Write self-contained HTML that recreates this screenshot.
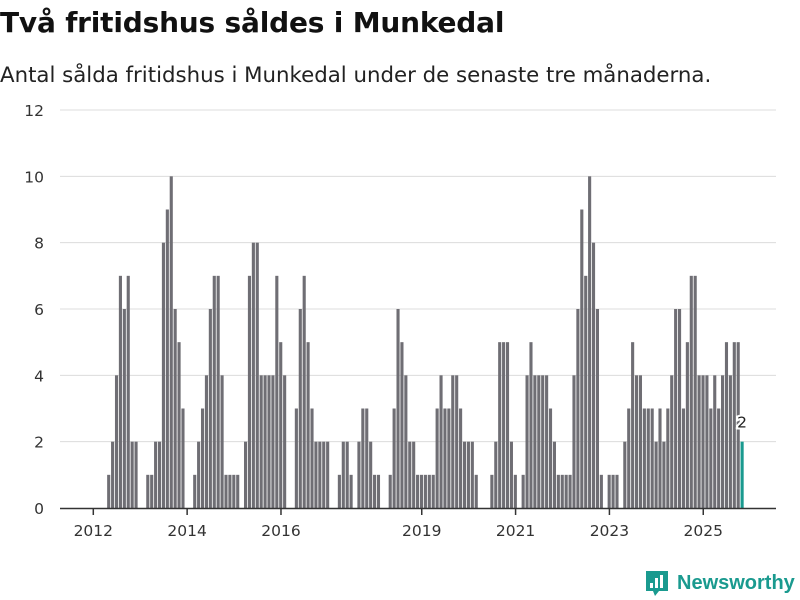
<!DOCTYPE html>
<html><head><meta charset="utf-8">
<style>
body{margin:0;background:#fff;width:800px;height:600px;overflow:hidden;font-family:"DejaVu Sans",sans-serif;}
#title{position:absolute;left:0;top:6px;font-size:28px;font-weight:bold;color:#111;letter-spacing:-0.2px;white-space:nowrap}
#subtitle{position:absolute;left:0;top:63px;font-size:21.3px;color:#222;white-space:nowrap}
svg{position:absolute;left:0;top:0}
</style></head><body>
<div id="title">Två fritidshus såldes i Munkedal</div>
<div id="subtitle">Antal sålda fritidshus i Munkedal under de senaste tre månaderna.</div>
<svg id="chart" width="800" height="600"></svg>
<script>
const values=[0,0,0,0,1,2,4,7,6,7,2,2,0,0,1,1,2,2,8,9,10,6,5,3,0,0,1,2,3,4,6,7,7,4,1,1,1,1,0,
2,7,8,8,4,4,4,4,7,5,4,0,0,3,6,7,5,3,2,2,2,2,0,0,
1,2,2,1,0,2,3,3,2,1,1,0,0,1,3,6,5,4,2,2,1,1,1,1,1,
3,4,3,3,4,4,3,2,2,2,1,0,0,0,1,2,5,5,5,2,1,0,1,4,5,4,4,4,4,3,2,1,1,1,1,
4,6,9,7,10,8,6,1,0,1,1,1,0,2,3,5,4,4,3,3,3,2,3,2,3,4,6,6,3,5,7,7,4,4,4,3,4,3,4,5,4,5,5,2];
const yTicks=[0,2,4,6,8,10,12];
const xTickYears=[2012,2014,2016,2019,2021,2023,2025];
const startYear=2012;
const NS="http://www.w3.org/2000/svg";
const svg=document.getElementById('chart');
const y0=508,y12=110;
function y(v){return y0-(v/12)*(y0-y12);}
const step=3.91,barStart=91.5;
function xBar(i){return barStart+i*step;}
function xYear(yr){return 93.3+(yr-startYear)*12*step;}
function mk(tag,attrs){const e=document.createElementNS(NS,tag);for(const k in attrs)e.setAttribute(k,attrs[k]);svg.appendChild(e);return e;}
yTicks.forEach(t=>{
  if(t>0){const g=mk('line',{x1:60,x2:776,y1:y(t),y2:y(t),stroke:'#dcdcdc','stroke-width':1});
  
  }
  const l=mk('text',{x:44,y:y(t)+6,'text-anchor':'end','font-size':15.5,fill:'#333','font-family':'DejaVu Sans, sans-serif'});
  l.textContent=t;
  
  
});
values.forEach((v,i)=>{
  if(v<=0)return;
  const last=i===values.length-1;
  const r=mk('rect',{x:xBar(i),y:y(v),width:step-0.8,height:y0-y(v),fill:last?'#1a9a8f':'#6f6e74'});
  
  
});
const ax=mk('line',{x1:60,x2:776,y1:y0+0.5,y2:y0+0.5,stroke:'#333','stroke-width':1.5});


xTickYears.forEach(yr=>{
  const tk=mk('line',{x1:xYear(yr),x2:xYear(yr),y1:y0,y2:y0+7,stroke:'#333','stroke-width':1.5});
  
  
  const l=mk('text',{x:xYear(yr),y:536,'text-anchor':'middle','font-size':15.5,fill:'#333','font-family':'DejaVu Sans, sans-serif'});
  l.textContent=yr;
  
  
});
const li=values.length-1;
const vl=mk('text',{x:xBar(li)+1.5,y:y(values[li])-14,'text-anchor':'middle','font-size':15.5,fill:'#222',stroke:'#fff','stroke-width':4,'paint-order':'stroke','font-family':'DejaVu Sans, sans-serif'});
vl.textContent=values[li];


</script>
<svg width="800" height="600" style="pointer-events:none">
<path d="M646 571h22v20h-9l-4 5-2-5h-7z" fill="#1a9a8f"/>
<rect x="650" y="583" width="3" height="5" fill="#fff"/><rect x="655" y="578" width="3" height="10" fill="#fff"/><rect x="660" y="575" width="3" height="13" fill="#fff"/>
<text x="677" y="589" font-size="20" font-weight="bold" fill="#1a9a8f" font-family="Liberation Sans, sans-serif">Newsworthy</text>
</svg>
</body></html>
